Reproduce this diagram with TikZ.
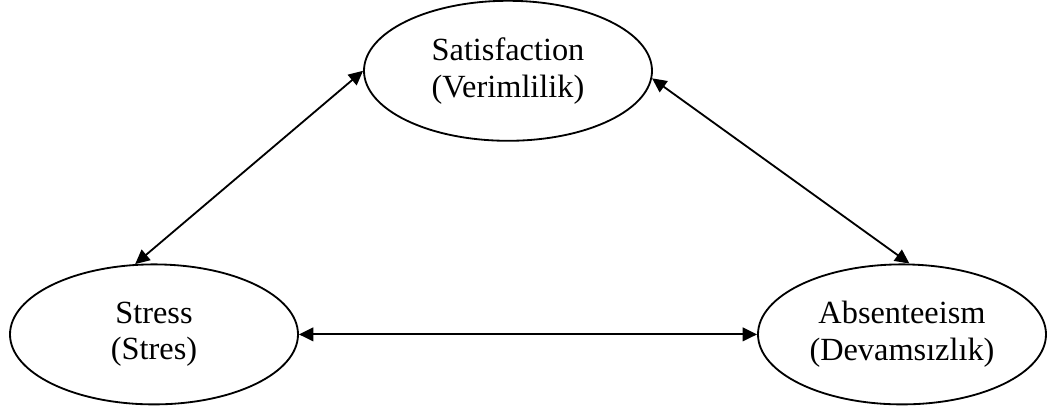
\documentclass[tikz,border=0pt]{standalone}
\usepackage{fontspec}
\setmainfont{Liberation Serif}
\usetikzlibrary{shapes.geometric,arrows.meta}

\begin{document}
\begin{tikzpicture}[>={Triangle[length=0.36cm,width=0.34cm]}, line width=1.3pt,
  oval/.style={draw, ellipse, minimum width=7.2cm, minimum height=3.5cm, inner sep=0pt, align=center,
    font=\fontsize{23}{26}\selectfont}]

  \useasboundingbox (0, 0) rectangle (26.2, 10.4);

  \node[oval] (sat) at (12.7, 8.63) {Satisfaction\\(Verimlilik)};
  \node[oval] (str) at (3.85, 2.04) {Stress\\(Stres)};
  \node[oval] (abs) at (22.55, 2.04) {Absenteeism\\(Devamsızlık)};
  \draw [<->] (sat.west) to (str.105);
  \draw [<->] (sat.-3) to (abs.84);
  \draw [<->] (str.east) to (abs.west);

\end{tikzpicture}
\end{document}
